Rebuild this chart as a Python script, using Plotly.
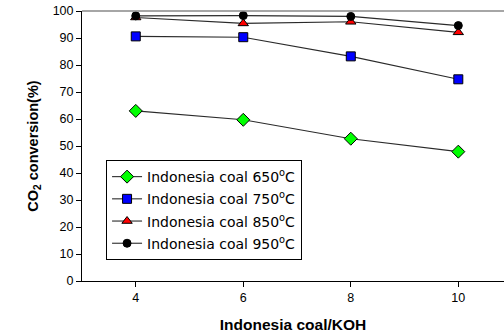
import plotly.graph_objects as go

# Coal/KOH mass ratio
ratio = [4, 6, 8, 10]

# CO2 conversion (%) at each activation temperature
conv_650 = [63.0, 59.7, 52.7, 47.9]
conv_750 = [90.6, 90.3, 83.2, 74.7]
conv_850 = [97.6, 95.4, 96.0, 92.1]
conv_950 = [98.2, 98.3, 98.0, 94.6]

series = [
    ("Indonesia coal 650<sup>o</sup>C", conv_650, "diamond", "#00ff00", 10),
    ("Indonesia coal 750<sup>o</sup>C", conv_750, "square", "#0000ff", 9),
    ("Indonesia coal 850<sup>o</sup>C", conv_850, "triangle-up", "#ff0000", 9),
    ("Indonesia coal 950<sup>o</sup>C", conv_950, "circle", "#000000", 8),
]

fig = go.Figure()
for i, (name, vals, sym, col, sz) in enumerate(series):
    fig.add_trace(go.Scatter(
        x=ratio, y=vals, name=name, mode="lines+markers",
        legendgroup=f"g{i}",
        line=dict(color="#2a2a2a", width=1.1),
        marker=dict(symbol=sym, size=sz, color=col,
                    line=dict(color="#000000", width=1)),
    ))

fig.update_layout(
    width=504, height=335,
    margin=dict(l=82, r=0, t=11, b=54),
    paper_bgcolor="white", plot_bgcolor="white",
    font=dict(family="Arial, Liberation Sans, sans-serif", color="black"),
    showlegend=True,
    legend=dict(
        x=0.057, y=0.448, xanchor="left", yanchor="top",
        bordercolor="black", borderwidth=1, bgcolor="white",
        font=dict(size=14, family="DejaVu Sans"),
        traceorder="grouped", tracegroupgap=1,
    ),
    xaxis=dict(
        range=[3, 10.85], tickvals=[4, 6, 8, 10],
        showgrid=False, zeroline=False,
        showline=True, linecolor="black", linewidth=1,
        ticks="outside", ticklen=5, tickcolor="black",
        tickfont=dict(size=12.5),
        title=dict(text="<b>Indonesia coal/KOH</b>", font=dict(size=15.5), standoff=15),
    ),
    yaxis=dict(
        range=[0, 100], dtick=10,
        showgrid=False, zeroline=False,
        showline=True, linecolor="black", linewidth=1,
        ticks="outside", ticklen=5, tickcolor="black",
        tickfont=dict(size=12.5),
        title=dict(text="<b>CO<sub>2</sub> conversion(%)</b>", font=dict(size=14.5), standoff=10),
    ),
    shapes=[dict(type="line", xref="paper", yref="paper", x0=0, x1=1, y0=1, y1=1,
                 line=dict(color="#888888", width=1.5))],
)

fig.write_html("out.html")
